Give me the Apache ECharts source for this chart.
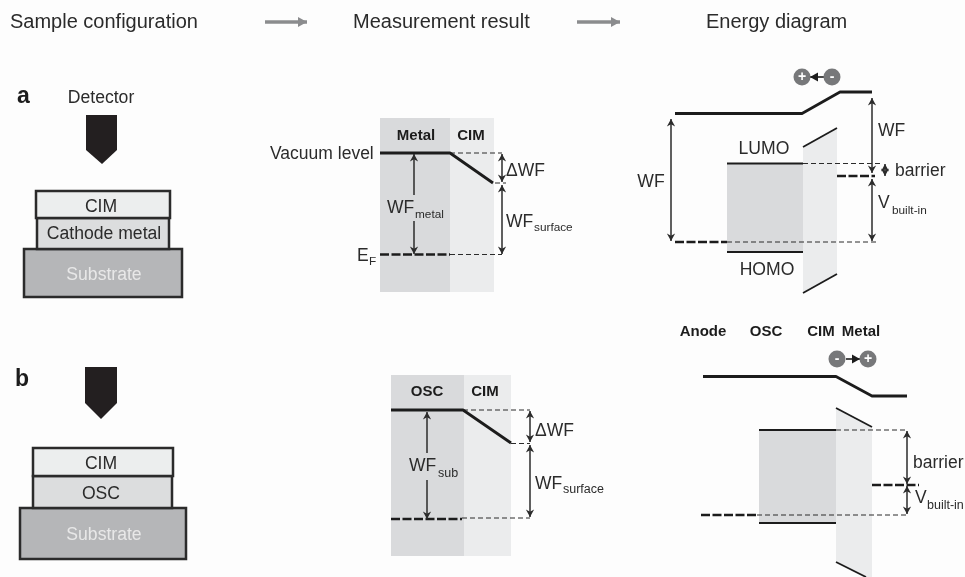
<!DOCTYPE html>
<html><head><meta charset="utf-8">
<style>html,body{margin:0;padding:0;background:#fff}#c{width:965px;height:577px}</style>
<script src="https://cdn.jsdelivr.net/npm/echarts@6/dist/echarts.min.js"></script>
</head><body><div id="c"></div>
<script>
// Diagram geometry, in the hidden axes' units.
const metalFill = [[380,118,450,118,450,292,380,292],[391,375,464,375,464,556,391,556],[727,163,803,163,803,252,727,252],[759,430,836,430,836,523,759,523]];
const cimFill = [[450,118,494,118,494,292,450,292],[464,375,511,375,511,556,464,556],[803,147,837,128,837,274,803,293],[836,408,872,428,872,577,865,577,836,562]];
const boxesCim = [[36,191,170,191,170,218,36,218],[33,448,173,448,173,476,33,476]];
const boxesMiddle = [[37,218,169,218,169,249,37,249],[33,476,172,476,172,508,33,508]];
const boxesSubstrate = [[24,249,182,249,182,297,24,297],[20,508,186,508,186,559,20,559]];
const detectors = [[86,115,117,115,117,150,102,164,86,150],[85,367,117,367,117,403,101,419,85,403]];
const heavyLevels = [[380,153,450,153,493,183],[391,410,463,410,511,443],[675,113.5,802,113.5,840,92,872,92],[703,376.5,836,376.5,872,396,907,396]];
const bandEdges = [[727,163.5,803,163.5],[727,252,803,252],[803,147,837,128],[803,293,837,274],[759,430,836,430],[759,523,836,523],[836,408,872,427],[836,562,866,577]];
const thinDashes = [[450,153,502,153],[495,183,506,183],[450,254.5,502,254.5],[463,410,530,410],[511,443.5,530,443.5],[462,518,530,518],[803,163.5,880,163.5],[727,242,878,242],[836,430,908,430],[757,515,908,515]];
const thickDashes = [[380,254.5,450,254.5],[391,519,462,519],[837,176,875,176],[675,242,727,242],[872,485,919,485],[701,515,757,515]];
const doubleArrows = [[502,154,502,182],[502,185,502,254],[530,411,530,442],[530,445,530,517],[671,119,671,241],[872,98,872,173],[872,179,872,241],[885,164,885,176],[907,431,907,484],[907,486,907,514]];
const endArrows = [[414,195,414,154],[414,221,414,254],[427,453,427,412],[427,480,427,519]];
const headerArrows = [[265,22,307,22],[577,22,620,22]];
const chargeArrows = [[824,77,810,77],[846,359,860,359]];
const chargeDots = [[802,77,'+'],[832,77,'-'],[837,359,'-'],[868,359,'+']];
const headerLabels = [['Sample configuration',10,22],['Measurement result',353,22],['Energy diagram',706,22]];
const panelLetters = [['a',17,97],['b',15,380]];
const boldLabels = [['Metal',416,136],['CIM',471,136],['OSC',427,392],['CIM',485,392],['Anode',703,332],['OSC',766,332],['CIM',821,332],['Metal',861,332]];
const centerLabels = [['Detector',101,98],['CIM',101,207],['Cathode metal',104,234],['CIM',101,464],['OSC',101,494],['LUMO',764,149],['HOMO',767,270],['WF',651,182]];
const substrateLabels = [['Substrate',104,275],['Substrate',104,535]];
const leftLabels = [['Vacuum level',270,154],['E',357,256],['WF',387,208],['ΔWF',506,171],['WF',506,222],['WF',409,466],['ΔWF',535,431],['WF',535,484],['WF',878,131],['barrier',895,171],['V',878,203],['barrier',913,463],['V',915,498]];
const smallSubLabels = [['F',369,262],['metal',415,215],['surface',534,228],['built-in',892,211]];
const largeSubLabels = [['sub',438,474],['surface',563,490],['built-in',927,506]];

const INK = '#2b2b2b', SANS = '"Liberation Sans", Arial, sans-serif';

function shapeSeries(list, draw, z) {
  return { type:'custom', coordinateSystem:'cartesian2d', silent:true, clip:false, z:z,
    data:list.map((d,i)=>[i]), encode:{x:0,y:0},
    renderItem:(p,api)=>draw(list[api.value(0)],api) };
}
const toPts = (a,api)=>{const r=[];for(let i=0;i<a.length;i+=2)r.push(api.coord([a[i],a[i+1]]));return r;};
const polygon = (fill,stroke,w)=>(a,api)=>({type:'polygon',shape:{points:toPts(a,api)},style:{fill,stroke:stroke||null,lineWidth:w||0,lineJoin:'miter'}});
const polyline = (stroke,w,dash)=>(a,api)=>({type:'polyline',shape:{points:toPts(a,api)},style:{fill:null,stroke,lineWidth:w,lineDash:dash||null,lineJoin:'round'}});
function head(tip,from,size,color,notch){
  const dx=tip[0]-from[0],dy=tip[1]-from[1],l=Math.hypot(dx,dy)||1,ux=dx/l,uy=dy/l;
  return {type:'polygon',shape:{points:[tip,[tip[0]-ux*size+uy*size*.55,tip[1]-uy*size-ux*size*.55],[tip[0]-ux*size*notch,tip[1]-uy*size*notch],[tip[0]-ux*size-uy*size*.55,tip[1]-uy*size+ux*size*.55]]},style:{fill:color}};
}
const arrow = (color,w,size,both,notch)=>(a,api)=>{
  const [s,e]=toPts(a,api);
  const ch=[{type:'line',shape:{x1:s[0],y1:s[1],x2:e[0],y2:e[1]},style:{stroke:color,lineWidth:w}},head(e,s,size,color,notch)];
  if(both)ch.push(head(s,e,size,color,notch));
  return {type:'group',children:ch};
};
const label = (size,color,weight,align)=>(d,api)=>{
  const c=api.coord([d[1],d[2]]);
  return {type:'text',style:{x:c[0],y:c[1],text:d[0],fill:color,fontSize:size,fontWeight:weight,fontFamily:SANS,textAlign:align,textVerticalAlign:'middle'}};
};
const dot = (d,api)=>{
  const c=api.coord([d[0],d[1]]);
  return {type:'group',children:[
    {type:'circle',shape:{cx:c[0],cy:c[1],r:8.5},style:{fill:'#77787a'}},
    {type:'text',style:{x:c[0],y:c[1],text:d[2],fill:'#fff',fontSize:14,fontWeight:'bold',fontFamily:SANS,textAlign:'center',textVerticalAlign:'middle'}}]};
};

const chart = echarts.init(document.getElementById('c'),null,{renderer:'canvas'});
chart.setOption({
  animation:false, backgroundColor:'#fdfdfd',
  grid:{left:0,right:0,top:0,bottom:0},
  xAxis:{type:'value',min:0,max:965,show:false},
  yAxis:{type:'value',min:0,max:577,inverse:true,show:false},
  series:[
    shapeSeries(metalFill,polygon('#d9dadc'),1),
    shapeSeries(cimFill,polygon('#ebeced'),1),
    shapeSeries(boxesSubstrate,polygon('#b5b6b8',INK,2.5),2),
    shapeSeries(boxesMiddle,polygon('#dcddde',INK,2.5),2),
    shapeSeries(boxesCim,polygon('#eceeee',INK,2.5),2),
    shapeSeries(detectors,polygon('#231f20'),2),
    shapeSeries(thinDashes,polyline(INK,1,[5,3]),3),
    shapeSeries(thickDashes,polyline('#1c1c1c',2.6,[9,2.5]),3),
    shapeSeries(bandEdges,polyline('#1c1c1c',1.8),3),
    shapeSeries(heavyLevels,polyline('#1c1c1c',2.8),3),
    shapeSeries(doubleArrows,arrow(INK,1.5,7.5,true,.7),4),
    shapeSeries(endArrows,arrow(INK,1.5,7.5,false,.7),4),
    shapeSeries(headerArrows,arrow('#8b8c8e',3.5,9,false,1),4),
    shapeSeries(chargeArrows,arrow('#1c1c1c',1.6,8,false,1),4),
    shapeSeries(chargeDots,dot,4),
    shapeSeries(headerLabels,label(20,INK,'normal','left'),5),
    shapeSeries(panelLetters,label(23,'#1c1c1c','bold','left'),5),
    shapeSeries(boldLabels,label(15,'#1c1c1c','bold','center'),5),
    shapeSeries(centerLabels,label(17.6,INK,'normal','center'),5),
    shapeSeries(substrateLabels,label(17.6,'#e8e8e8','normal','center'),5),
    shapeSeries(leftLabels,label(17.5,INK,'normal','left'),5),
    shapeSeries(smallSubLabels,label(11.8,INK,'normal','left'),5),
    shapeSeries(largeSubLabels,label(12.5,INK,'normal','left'),5)
  ]
});
</script></body></html>
